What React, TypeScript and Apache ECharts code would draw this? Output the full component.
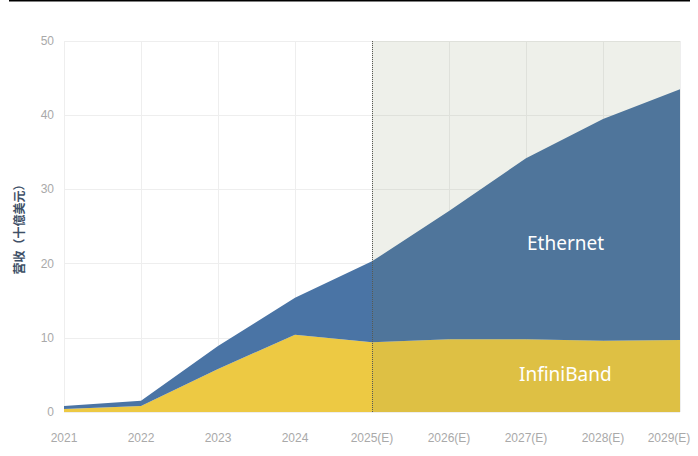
import React, { useEffect, useRef } from "react";
import * as echarts from "echarts";

const years = ["2021", "2022", "2023", "2024", "2025(E)", "2026(E)", "2027(E)", "2028(E)", "2029(E)"];
const infiniBand = [0.4, 0.8, 5.8, 10.4, 9.4, 9.8, 9.8, 9.6, 9.7];
const ethernet = [0.4, 0.7, 3.1, 5.0, 10.9, 17.3, 24.4, 29.9, 33.8];
const yTicks = [0, 10, 20, 30, 40, 50];
const forecastStart = "2025(E)";
const forecastEnd = "2029(E)";

export default function App() {
  const ref = useRef<HTMLDivElement>(null);
  useEffect(() => {
    document.body.style.margin = "0";
    const chart = echarts.init(ref.current!, null, { renderer: "svg" });
    const yMin = yTicks[0];
    const yMax = yTicks[yTicks.length - 1];
    const lastYear = years[years.length - 1];
    chart.setOption({
      animation: false,
      backgroundColor: "#ffffff",
      grid: { left: 64, right: 18, top: 41, bottom: 44, outerBoundsMode: "none", containLabel: false },
      xAxis: {
        type: "category",
        data: years,
        boundaryGap: false,
        axisLine: { show: false },
        axisTick: { show: false, interval: 0 },
        axisLabel: {
          interval: 0,
          hideOverlap: false,
          color: "#a9a9a9",
          fontSize: 12,
          margin: 20,
          fontFamily: "Liberation Sans",
          formatter: (v: string) => (v === lastYear ? "{last|" + v + "}" : v),
          rich: {
            last: { color: "#a9a9a9", fontSize: 12, fontFamily: "Liberation Sans", padding: [0, 22, 0, 0] },
          },
        },
        splitLine: { show: true, interval: 0, lineStyle: { color: "#eeeeee", width: 1 } },
      },
      yAxis: {
        type: "value",
        min: yMin,
        max: yMax,
        interval: 10,
        name: "营收（十億美元）",
        nameLocation: "middle",
        nameGap: 40,
        nameTextStyle: { color: "#3e4f66", fontSize: 12, fontWeight: "bold", fontFamily: "Noto Sans CJK SC" },
        axisLine: { show: false },
        axisTick: { show: false },
        axisLabel: { color: "#a9a9a9", fontSize: 12, margin: 10, fontFamily: "Liberation Sans" },
        splitLine: { lineStyle: { color: "#eeeeee", width: 1 } },
      },
      series: [
        {
          name: "InfiniBand",
          type: "line",
          stack: "total",
          data: infiniBand,
          symbol: "none",
          lineStyle: { width: 0 },
          areaStyle: { color: "#edc943", opacity: 1 },
          z: 2,
        },
        {
          name: "Ethernet",
          type: "line",
          stack: "total",
          data: ethernet,
          symbol: "none",
          lineStyle: { width: 0 },
          areaStyle: { color: "#4a74a5", opacity: 1 },
          z: 2,
        },
        {
          name: "forecast",
          type: "custom",
          z: 5,
          silent: true,
          data: [[years.indexOf(forecastStart), years.indexOf(forecastEnd)]],
          renderItem: (params: any, api: any) => {
            const p0 = api.coord([api.value(0), yMax]);
            const p1 = api.coord([api.value(1), yMin]);
            return {
              type: "rect",
              shape: { x: p0[0], y: p0[1], width: p1[0] - p0[0], height: p1[1] - p0[1] },
              style: { fill: "rgba(113,130,80,0.12)" },
            };
          },
        },
        {
          name: "divider",
          type: "line",
          data: [],
          z: 8,
          markLine: {
            silent: true,
            symbol: "none",
            label: { show: false },
            lineStyle: { color: "#555555", type: "dotted", width: 1 },
            data: [{ xAxis: forecastStart }],
          },
        },
      ],
      graphic: [
        {
          type: "line",
          shape: { x1: 9, y1: 0.5, x2: 690, y2: 0.5 },
          style: { stroke: "#000000", lineWidth: 2 },
        },
        {
          type: "text",
          left: 527,
          top: 233,
          style: { text: "Ethernet", fill: "#ffffff", fontSize: 19, fontFamily: "Noto Sans" },
          z: 20,
        },
        {
          type: "text",
          left: 519,
          top: 364,
          style: { text: "InfiniBand", fill: "#ffffff", fontSize: 19, fontFamily: "Noto Sans" },
          z: 20,
        },
      ],
    });
    return () => chart.dispose();
  }, []);
  return <div ref={ref} style={{ width: 698, height: 456 }} />;
}
